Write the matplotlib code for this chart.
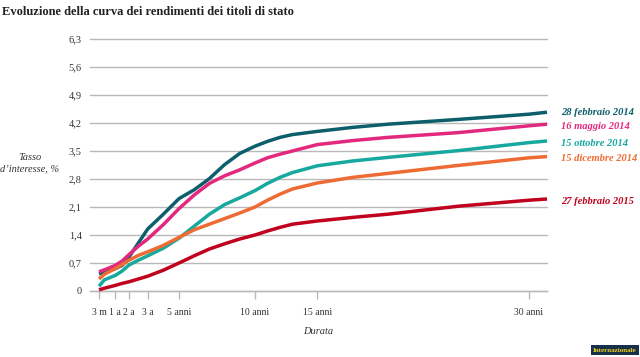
import numpy as np
import matplotlib
matplotlib.use("Agg")
import matplotlib.pyplot as plt

# ---- data ----
durations = [0.25, 0.5, 1, 1.5, 2, 2.5, 3, 4, 5, 6, 7, 8, 9, 10, 11, 12, 13, 15, 17.5, 20, 25, 30, 31.27]
feb14 = [0.43, 0.47, 0.56, 0.64, 0.85, 1.20, 1.55, 1.92, 2.31, 2.53, 2.81, 3.16, 3.44, 3.62, 3.74, 3.84, 3.91, 3.99, 4.09, 4.17, 4.29, 4.42, 4.47]
may14 = [0.48, 0.53, 0.64, 0.75, 0.91, 1.12, 1.30, 1.66, 2.06, 2.40, 2.69, 2.88, 3.03, 3.20, 3.33, 3.42, 3.50, 3.66, 3.76, 3.84, 3.96, 4.13, 4.17]
oct14 = [0.12, 0.28, 0.39, 0.50, 0.65, 0.77, 0.88, 1.07, 1.32, 1.62, 1.92, 2.16, 2.33, 2.51, 2.69, 2.84, 2.96, 3.13, 3.25, 3.34, 3.51, 3.71, 3.75]
dec14 = [0.30, 0.42, 0.56, 0.66, 0.77, 0.89, 0.98, 1.14, 1.34, 1.53, 1.67, 1.81, 1.95, 2.10, 2.27, 2.42, 2.55, 2.70, 2.84, 2.94, 3.14, 3.33, 3.36]
feb15 = [0.03, 0.07, 0.14, 0.19, 0.23, 0.30, 0.37, 0.52, 0.70, 0.88, 1.05, 1.18, 1.30, 1.40, 1.50, 1.59, 1.67, 1.75, 1.84, 1.92, 2.12, 2.27, 2.30]

series_labels = ["28 febbraio 2014", "16 maggio 2014", "15 ottobre 2014", "15 dicembre 2014", "27 febbraio 2015"]
series_values = [feb14, may14, oct14, dec14, feb15]
series_colors = ["#0e5f6c", "#e3297e", "#17a89e", "#ee6c34", "#c0021f"]

tick_years = [0.25, 1, 2, 3, 5, 10, 15, 30]
tick_labels = ["3 m", "1 a", "2 a", "3 a", "5 anni", "10 anni", "15 anni", "30 anni"]

y_ticks = [0, 0.7, 1.4, 2.1, 2.8, 3.5, 4.2, 4.9, 5.6, 6.3]
y_tick_labels = ["0", "0,7", "1,4", "2,1", "2,8", "3,5", "4,2", "4,9", "5,6", "6,3"]

# axis layout: piecewise mapping of durations onto the horizontal axis
scale_years = [-0.165, 0.25, 1, 2, 3, 5, 10, 15, 30, 31.27]
scale_pos = [90, 99, 115.3, 129, 147.7, 179, 255, 317.3, 529, 547]

def fwd(x):
    return np.interp(x, scale_years, scale_pos)

def inv(p):
    return np.interp(p, scale_pos, scale_years)

plt.rcParams['font.family'] = ['Liberation Serif', 'DejaVu Serif']

fig = plt.figure(figsize=(6.4, 3.57), dpi=100)
ax = fig.add_axes([90/640, 1-291/357, (547-90)/640, (291-39)/357])
ax.set_xscale('function', functions=(fwd, inv))
ax.set_xlim(scale_years[0], scale_years[-1])
ax.set_ylim(0, 6.3)

grid_col = "#b9b9b9"
for yv in y_ticks:
    ax.axhline(yv, color=grid_col, lw=1.0, zorder=1, clip_on=False)

for vals, col in zip(series_values, series_colors):
    ax.plot(durations, vals, color=col, lw=2.5, solid_capstyle='butt',
            solid_joinstyle='round', zorder=3, clip_on=False)

label_nudge = [0.05, 0, 0, 0, 0]
for lab, vals, col, dy in zip(series_labels, series_values, series_colors, label_nudge):
    ax.annotate(lab, xy=(durations[-1], vals[-1] + dy), xytext=(10, -1.5),
                textcoords='offset points', va='center', ha='left',
                color=col, fontsize=7.6, fontweight='bold', fontstyle='italic',
                annotation_clip=False)

for s in ['top', 'right', 'left']:
    ax.spines[s].set_visible(False)
ax.spines['bottom'].set_color(grid_col)
ax.spines['bottom'].set_linewidth(1.0)

ax.set_xticks(tick_years)
ax.set_xticklabels(tick_labels)
ax.xaxis.set_minor_locator(matplotlib.ticker.NullLocator())
ax.tick_params(axis='x', direction='out', length=6, width=1.0, color=grid_col,
               labelsize=7, labelcolor="#333333", pad=6)
ax.set_yticks(y_ticks)
ax.set_yticklabels(y_tick_labels)
ax.tick_params(axis='y', length=0, labelsize=7.5, labelcolor="#333333", pad=6)

fig.text(2/640, 1-12/357, "Evoluzione della curva dei rendimenti dei titoli di stato",
         fontsize=9, fontweight='bold', color="#222222", ha='left', va='center')
fig.text(30/640, 1-163/357, "Tasso\nd\u2019interesse, %", fontsize=7.5, fontstyle='italic',
         color="#333333", ha='center', va='center', linespacing=1.3)
fig.text(318/640, 1-332/357, "Durata", fontsize=7.5, fontstyle='italic',
         color="#333333", ha='center', va='center')
fig.text(615/640, 1-350/357, "Internazionale", fontsize=5, fontweight='bold',
         color="#f2d21b", ha='center', va='center',
         bbox=dict(boxstyle='square,pad=0.35', fc="#17304a", ec='none'))

fig.savefig("out.png", dpi=100)
